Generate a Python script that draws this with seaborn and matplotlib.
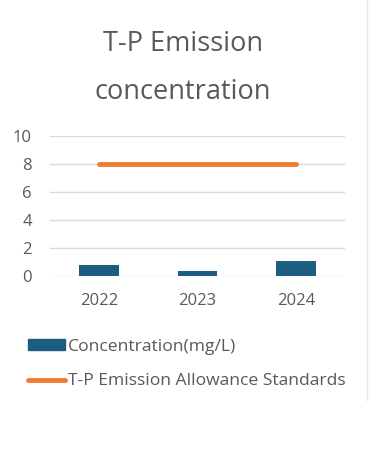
import matplotlib
matplotlib.use("Agg")
import matplotlib.pyplot as plt
import seaborn as sns
import numpy as np
import pandas as pd
from matplotlib.patches import Patch
from matplotlib.lines import Line2D

years = ["2022", "2023", "2024"]
concentration = [0.8, 0.35, 1.05]
standard = [8, 8, 8]
title_lines = ["T-P Emission", "concentration"]
bar_label = "Concentration(mg/L)"
line_label = "T-P Emission Allowance Standards"
yticks = [0, 2, 4, 6, 8, 10]

sns.set_theme(style="white")
plt.rcParams['font.family'] = ['Open Sans', 'DejaVu Sans']

BAR = "#1b5e82"
ORANGE = "#ed7d31"
GREY = "#595959"

fig = plt.figure(figsize=(3.7, 4.5), dpi=100)
ax = fig.add_axes([50/370, 174/450, 295/370, 140/450])

df = pd.DataFrame({"year": years, "conc": concentration})
sns.barplot(data=df, x="year", y="conc", color=BAR, width=0.4, ax=ax,
            saturation=1, zorder=3, linewidth=0)
sns.lineplot(x=np.arange(len(years)), y=standard, color=ORANGE, linewidth=3.5,
             ax=ax, zorder=4, solid_capstyle="round")

ax.set_ylim(0, 10)
ax.set_xlim(-0.5, len(years) - 0.5)
ax.set_yticks(yticks)
ax.yaxis.grid(True, color="#d9d9d9", linewidth=1, zorder=0)
ax.xaxis.grid(False)
for s in ax.spines.values():
    s.set_visible(False)
ax.tick_params(axis="both", length=0, labelsize=12, colors=GREY)
ax.tick_params(axis="x", pad=12)
ax.tick_params(axis="y", pad=13)
ax.set_xlabel("")
ax.set_ylabel("")

fig.text(183/370, 1 - 44/450, title_lines[0], ha="center", va="center",
         fontsize=19.5, color=GREY)
fig.text(183/370, 1 - 92/450, title_lines[1], ha="center", va="center",
         fontsize=19.5, color=GREY)

handles = [Patch(facecolor=BAR, edgecolor=BAR, label=bar_label),
           Line2D([0], [0], color=ORANGE, linewidth=3.5, label=line_label,
                  solid_capstyle="round")]
leg = fig.legend(handles=handles, loc="upper left",
                 bbox_to_anchor=(14/370, 1 - 325/450), frameon=False,
                 fontsize=12.6, handlelength=2.1, handleheight=0.6,
                 handletextpad=0.2, labelspacing=1.05, labelcolor=GREY,
                 borderpad=0.3)

fig.add_artist(Line2D([367/370, 367/370], [1 - 0/450, 1 - 400/450],
                      color="#e6e6e6", linewidth=1, transform=fig.transFigure))

fig.savefig("out.png", dpi=100, facecolor="white")
